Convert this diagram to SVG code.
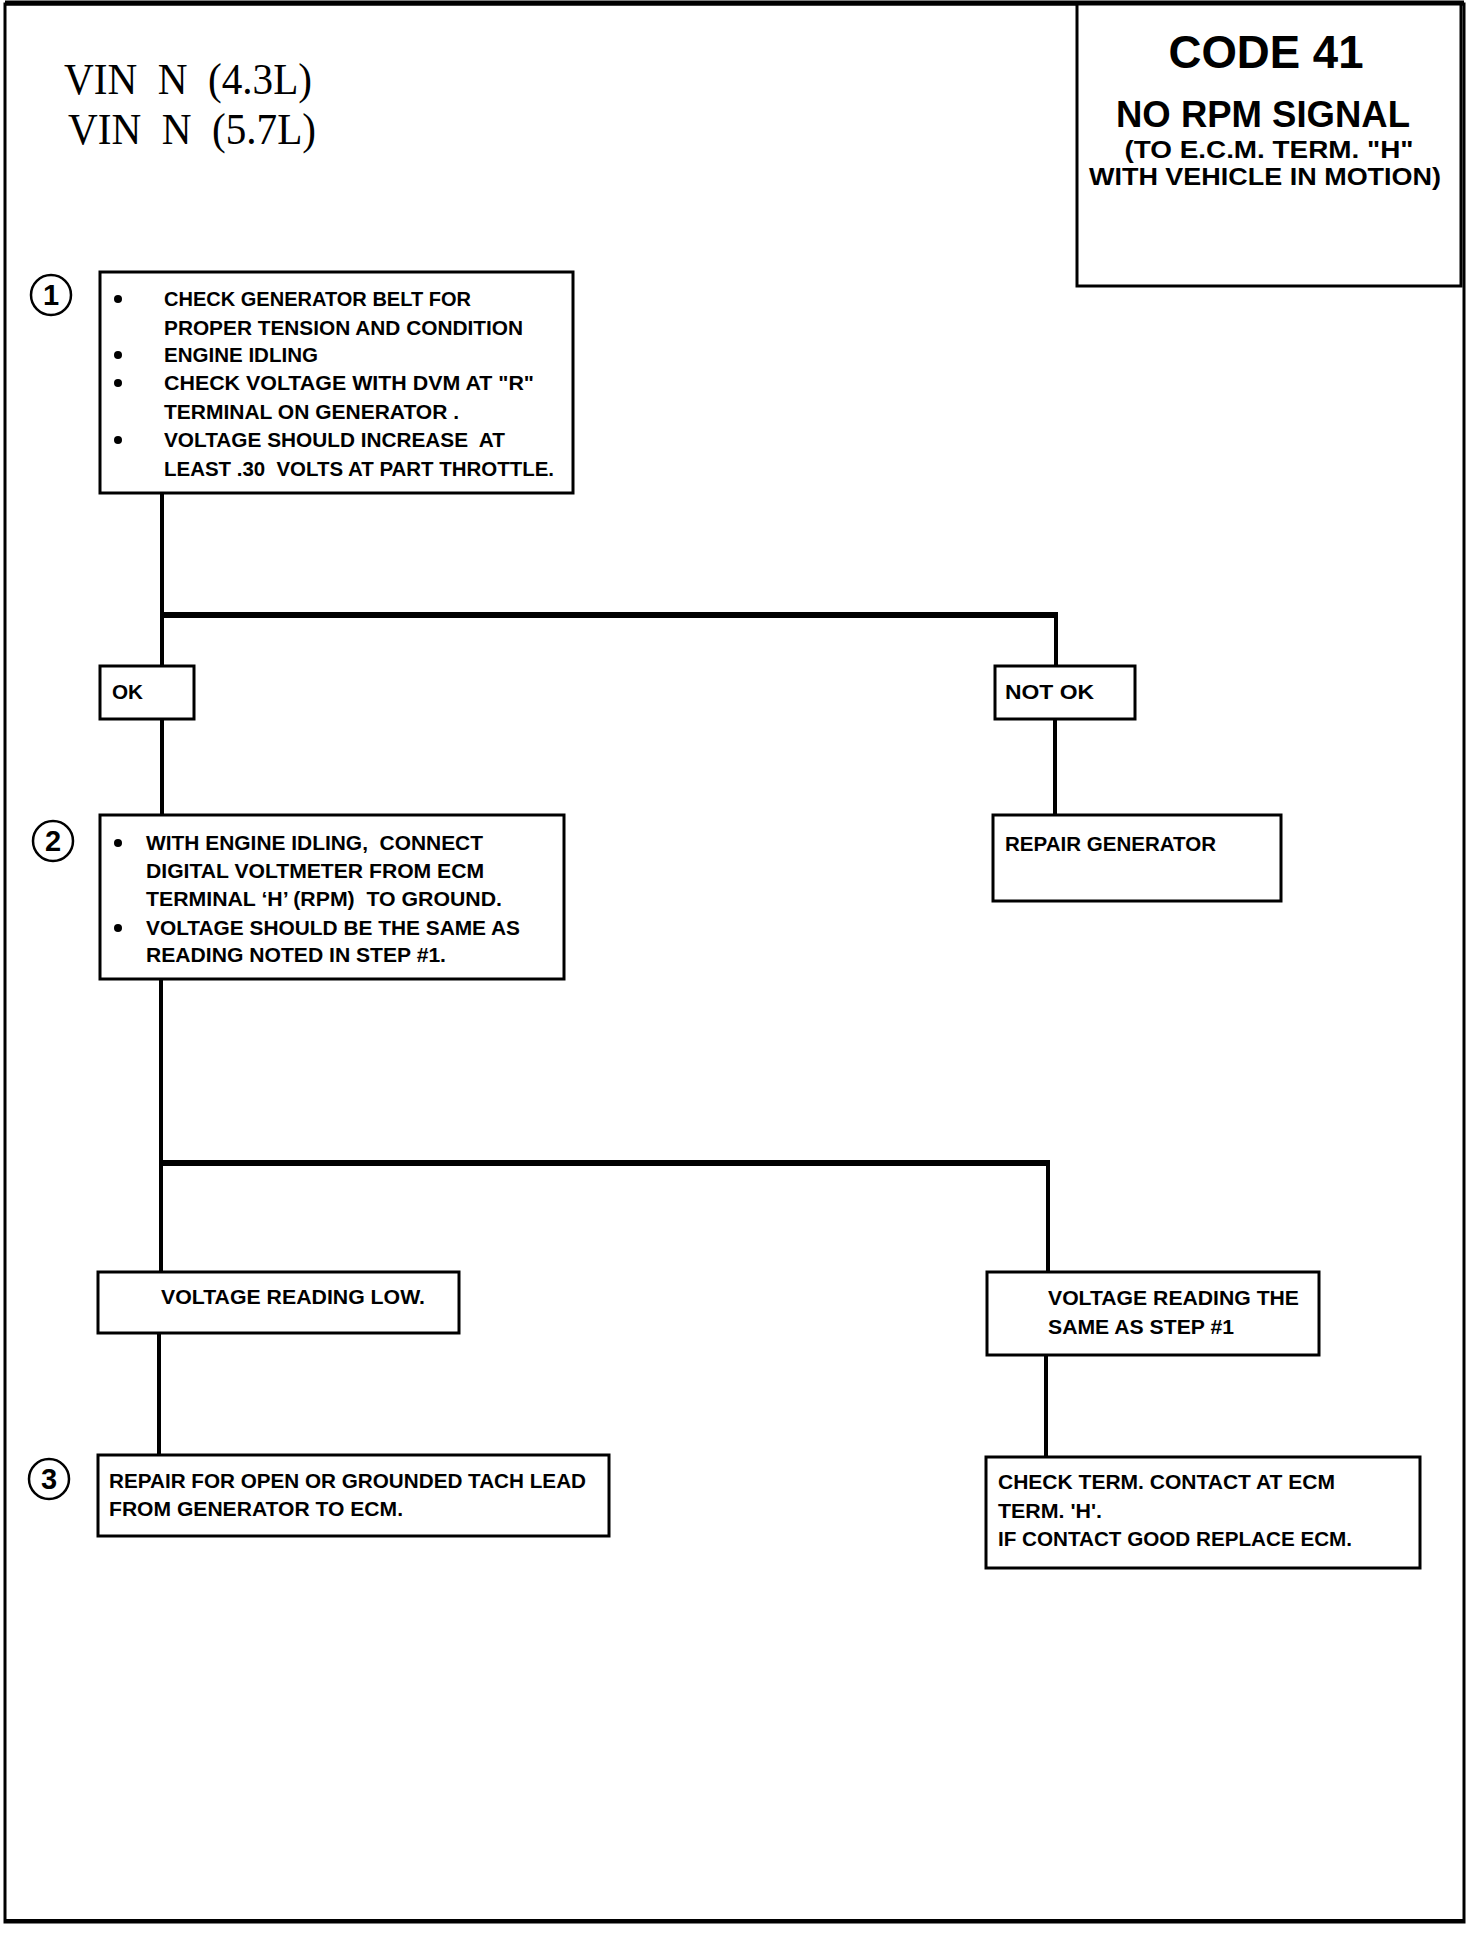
<svg xmlns="http://www.w3.org/2000/svg" width="1472" height="1936" viewBox="0 0 1472 1936">
<style>
.box{fill:#fff;stroke:#000;stroke-width:3}
.t{font-family:"Liberation Sans",Arial,sans-serif;font-weight:bold;font-size:20px;fill:#000}
.h{font-family:"Liberation Sans",Arial,sans-serif;font-weight:bold;fill:#000;text-anchor:middle}
.vin{font-family:"Liberation Serif","Times New Roman",serif;font-size:44px;fill:#000}
.num{font-family:"Liberation Sans",Arial,sans-serif;font-weight:bold;font-size:29px;fill:#000;text-anchor:middle}
.circ{fill:#fff;stroke:#000;stroke-width:2.5}
.c{fill:none;stroke:#000;stroke-width:4;stroke-linecap:square}
.ch{fill:none;stroke:#000;stroke-width:6}
</style>
<rect x="0" y="0" width="1472" height="1936" fill="#fff"/>
<g id="frame">
<rect x="5" y="4" width="1459" height="1918" fill="none" stroke="#000" stroke-width="3"/>
<line x1="5" y1="3" x2="1464" y2="3" stroke="#000" stroke-width="5"/>
<line x1="5" y1="1921" x2="1464" y2="1921" stroke="#000" stroke-width="4"/>
</g>
<g id="vin">
<text class="vin" x="64" y="94" xml:space="preserve" textLength="248" lengthAdjust="spacingAndGlyphs">VIN  N  (4.3L)</text>
<text class="vin" x="68" y="144" xml:space="preserve" textLength="248" lengthAdjust="spacingAndGlyphs">VIN  N  (5.7L)</text>
</g>
<g id="title">
<rect class="box" x="1077" y="4" width="384" height="282"/>
<text class="h" x="1266" y="68" font-size="47" textLength="195" lengthAdjust="spacingAndGlyphs">CODE 41</text>
<text class="h" x="1263" y="127" font-size="37" textLength="294" lengthAdjust="spacingAndGlyphs">NO RPM SIGNAL</text>
<text class="h" x="1269" y="158" font-size="24" textLength="289" lengthAdjust="spacingAndGlyphs">(TO E.C.M. TERM. "H"</text>
<text class="h" x="1265" y="185" font-size="24" textLength="352" lengthAdjust="spacingAndGlyphs">WITH VEHICLE IN MOTION)</text>
</g>
<g id="connectors">
<line class="c" x1="162" y1="493" x2="162" y2="666"/>
<line class="ch" x1="160" y1="615" x2="1058" y2="615"/>
<line class="c" x1="1056" y1="615" x2="1056" y2="666"/>
<line class="c" x1="162" y1="719" x2="162" y2="815"/>
<line class="c" x1="1055" y1="719" x2="1055" y2="815"/>
<line class="c" x1="161" y1="979" x2="161" y2="1272"/>
<line class="ch" x1="159" y1="1163" x2="1050" y2="1163"/>
<line class="c" x1="1048" y1="1163" x2="1048" y2="1272"/>
<line class="c" x1="159" y1="1333" x2="159" y2="1455"/>
<line class="c" x1="1046" y1="1355" x2="1046" y2="1457"/>
</g>
<g id="step1">
<circle class="circ" cx="51" cy="295" r="20"/>
<text class="num" x="51" y="305">1</text>
<rect class="box" x="100" y="272" width="473" height="221"/>
<circle cx="118" cy="299" r="4"/>
<circle cx="118" cy="355" r="4"/>
<circle cx="118" cy="383" r="4"/>
<circle cx="118" cy="440" r="4"/>
<text class="t" x="164" y="306" textLength="307" lengthAdjust="spacingAndGlyphs">CHECK GENERATOR BELT FOR</text>
<text class="t" x="164" y="335" textLength="359" lengthAdjust="spacingAndGlyphs">PROPER TENSION AND CONDITION</text>
<text class="t" x="164" y="362" textLength="154" lengthAdjust="spacingAndGlyphs">ENGINE IDLING</text>
<text class="t" x="164" y="390" textLength="370" lengthAdjust="spacingAndGlyphs">CHECK VOLTAGE WITH DVM AT "R"</text>
<text class="t" x="164" y="419" textLength="295" lengthAdjust="spacingAndGlyphs">TERMINAL ON GENERATOR .</text>
<text class="t" x="164" y="447" xml:space="preserve" textLength="341" lengthAdjust="spacingAndGlyphs">VOLTAGE SHOULD INCREASE  AT</text>
<text class="t" x="164" y="476" xml:space="preserve" textLength="390" lengthAdjust="spacingAndGlyphs">LEAST .30  VOLTS AT PART THROTTLE.</text>
</g>
<g id="ok">
<rect class="box" x="100" y="666" width="94" height="53"/>
<text class="t" x="112" y="699" font-size="18" textLength="31" lengthAdjust="spacingAndGlyphs">OK</text>
</g>
<g id="notok">
<rect class="box" x="995" y="666" width="140" height="53"/>
<text class="t" x="1005" y="699" font-size="18" textLength="89" lengthAdjust="spacingAndGlyphs">NOT OK</text>
</g>
<g id="step2">
<circle class="circ" cx="53" cy="841" r="20"/>
<text class="num" x="53" y="851">2</text>
<rect class="box" x="100" y="815" width="464" height="164"/>
<circle cx="118" cy="843" r="4"/>
<circle cx="118" cy="928" r="4"/>
<text class="t" x="146" y="850" xml:space="preserve" textLength="337" lengthAdjust="spacingAndGlyphs">WITH ENGINE IDLING,  CONNECT</text>
<text class="t" x="146" y="878" textLength="338" lengthAdjust="spacingAndGlyphs">DIGITAL VOLTMETER FROM ECM</text>
<text class="t" x="146" y="906" xml:space="preserve" textLength="356" lengthAdjust="spacingAndGlyphs">TERMINAL ‘H’ (RPM)  TO GROUND.</text>
<text class="t" x="146" y="935" textLength="374" lengthAdjust="spacingAndGlyphs">VOLTAGE SHOULD BE THE SAME AS</text>
<text class="t" x="146" y="962" textLength="300" lengthAdjust="spacingAndGlyphs">READING NOTED IN STEP #1.</text>
</g>
<g id="repair-generator">
<rect class="box" x="993" y="815" width="288" height="86"/>
<text class="t" x="1005" y="851" textLength="211" lengthAdjust="spacingAndGlyphs">REPAIR GENERATOR</text>
</g>
<g id="low">
<rect class="box" x="98" y="1272" width="361" height="61"/>
<text class="t" x="161" y="1304" textLength="264" lengthAdjust="spacingAndGlyphs">VOLTAGE READING LOW.</text>
</g>
<g id="same">
<rect class="box" x="987" y="1272" width="332" height="83"/>
<text class="t" x="1048" y="1305" textLength="251" lengthAdjust="spacingAndGlyphs">VOLTAGE READING THE</text>
<text class="t" x="1048" y="1334" textLength="186" lengthAdjust="spacingAndGlyphs">SAME AS STEP #1</text>
</g>
<g id="step3">
<circle class="circ" cx="49" cy="1479" r="20"/>
<text class="num" x="49" y="1489">3</text>
<rect class="box" x="98" y="1455" width="511" height="81"/>
<text class="t" x="109" y="1488" textLength="477" lengthAdjust="spacingAndGlyphs">REPAIR FOR OPEN OR GROUNDED TACH LEAD</text>
<text class="t" x="109" y="1516" textLength="294" lengthAdjust="spacingAndGlyphs">FROM GENERATOR TO ECM.</text>
</g>
<g id="check-term">
<rect class="box" x="986" y="1457" width="434" height="111"/>
<text class="t" x="998" y="1489" textLength="337" lengthAdjust="spacingAndGlyphs">CHECK TERM. CONTACT AT ECM</text>
<text class="t" x="998" y="1518" textLength="104" lengthAdjust="spacingAndGlyphs">TERM. 'H'.</text>
<text class="t" x="998" y="1546" textLength="354" lengthAdjust="spacingAndGlyphs">IF CONTACT GOOD REPLACE ECM.</text>
</g>
</svg>
